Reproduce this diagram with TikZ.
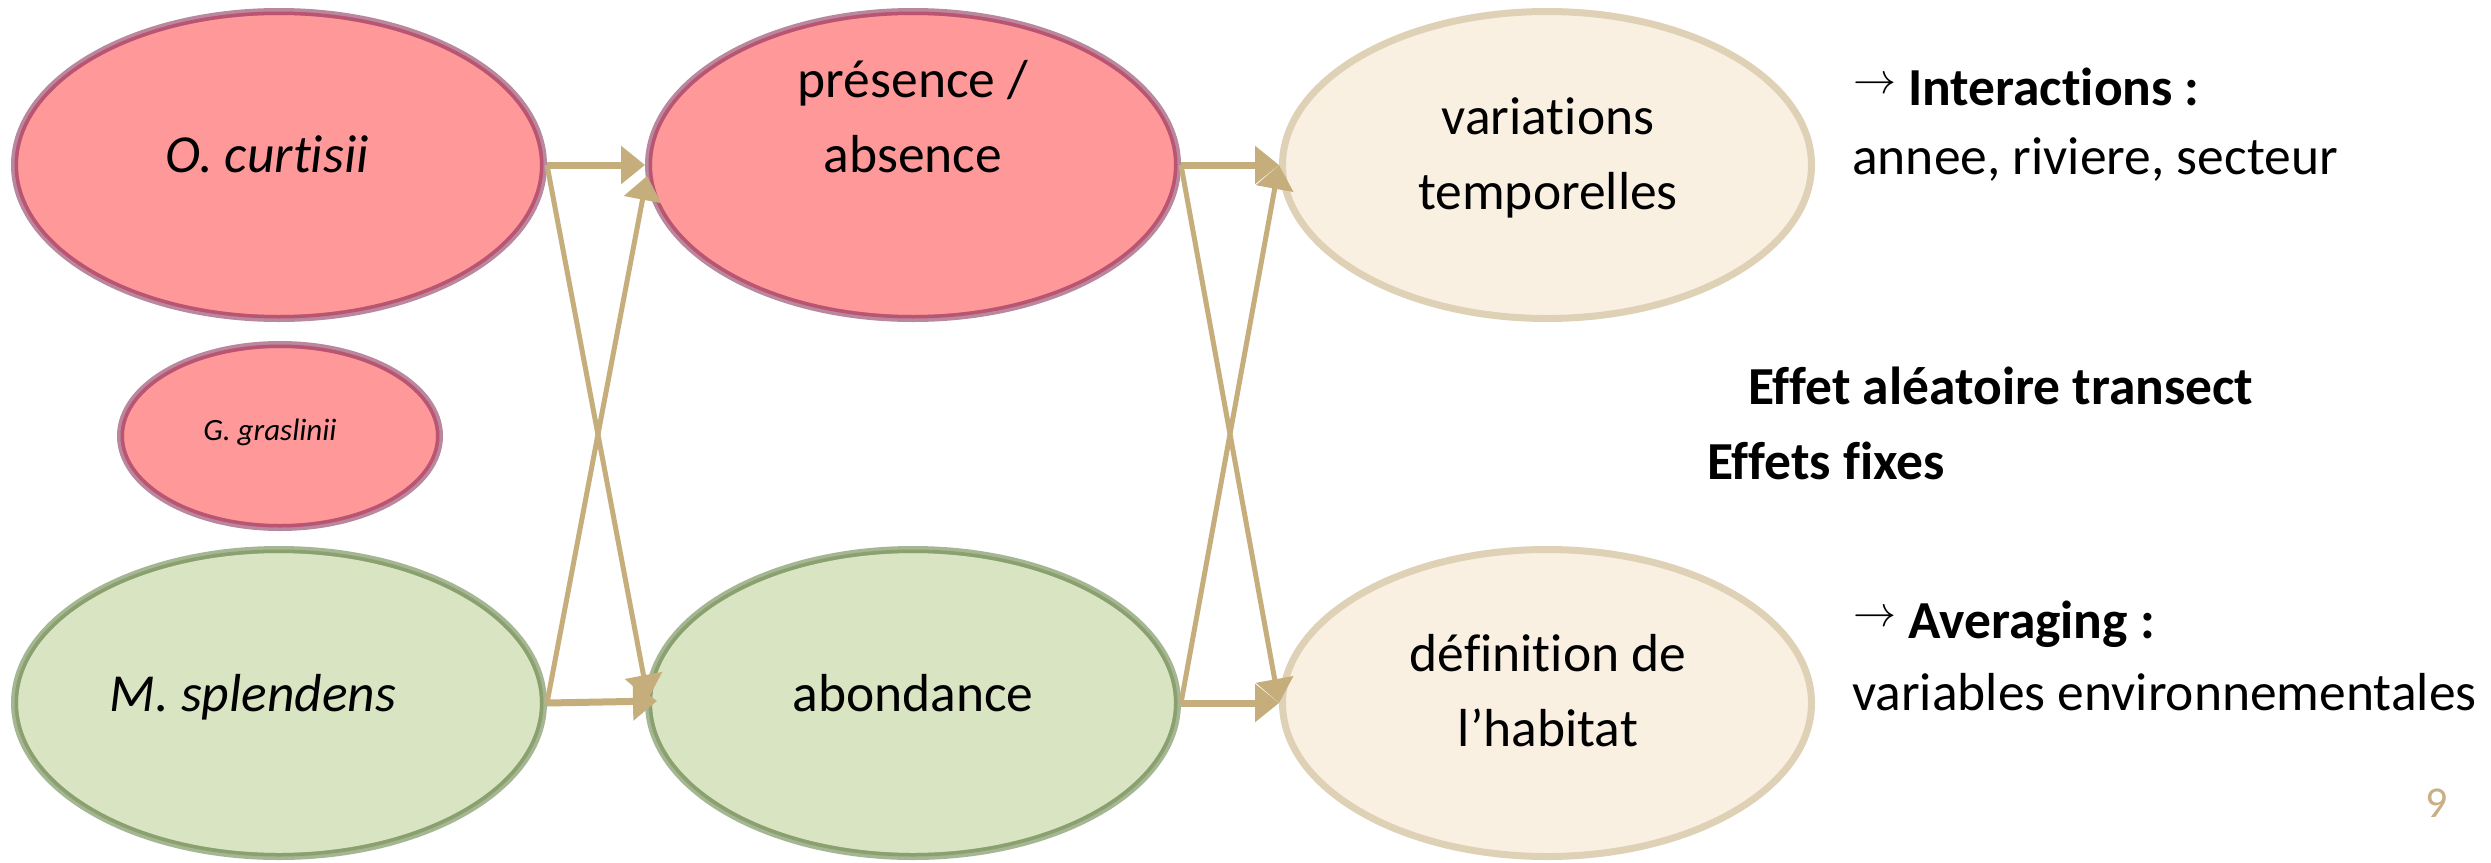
\documentclass[tikz,border=0pt]{standalone}
\usepackage{fontspec}
\setmainfont[Ligatures=NoCommon]{Carlito}
\usetikzlibrary{arrows.meta,shapes.geometric,calc}
\definecolor{redfill}{RGB}{255,153,153}
\definecolor{redline}{RGB}{186,84,112}
\definecolor{redhalo}{RGB}{186,136,158}
\definecolor{greenfill}{RGB}{217,228,194}
\definecolor{greenline}{RGB}{138,160,110}
\definecolor{greenhalo}{RGB}{164,182,146}
\definecolor{creamfill}{RGB}{249,240,226}
\definecolor{creamline}{RGB}{222,209,181}
\definecolor{tanc}{RGB}{198,174,124}
\definecolor{numc}{RGB}{200,176,132}
\newcommand{\myarrow}{\raisebox{12pt}{\resizebox{43pt}{!}{$\rightarrow$}}}
\tikzset{
  bigell/.style={ellipse, minimum width=529pt, minimum height=307pt, line width=7pt, inner sep=0pt},
  smallell/.style={ellipse, minimum width=319pt, minimum height=183pt, line width=7pt, inner sep=0pt},
  redell/.style={fill=redfill, draw=redhalo},
  greenell/.style={fill=greenfill, draw=greenhalo},
  creamell/.style={fill=creamfill, draw=creamline},
  txt/.style={font=\fontsize{53.5}{64}\selectfont, inner sep=0pt, anchor=base},
  itxt/.style={font=\fontsize{53.5}{64}\selectfont\itshape, inner sep=0pt, anchor=base},
  rtxt/.style={font=\fontsize{53.5}{64}\selectfont, inner sep=0pt, anchor=base west},
  rbtxt/.style={font=\fontsize{53.5}{64}\selectfont\bfseries, inner sep=0pt, anchor=base west},
  thickarrow/.style={draw=tanc, line width=7pt, -{Triangle[length=24pt,width=37pt]}},
  thinarrow/.style={draw=tanc, line width=5pt, -{Triangle[length=24pt,width=37pt]}},
}
\begin{document}
\begin{tikzpicture}[x=1pt,y=-1pt]
\useasboundingbox[fill=white] (0,0) rectangle (2491,862);
% ellipses
\node[bigell, redell] (oc) at (279,165) {};
\node[bigell, redell] (pa) at (913,165) {};
\node[bigell, creamell] (vt) at (1547,165) {};
\node[smallell, redell] (gg) at (280,436) {};
\node[bigell, greenell] (ms) at (279,703) {};
\node[bigell, greenell] (ab) at (913,703) {};
\node[bigell, creamell] (dh) at (1547,703) {};
% inner darker borders
\foreach \n in {oc,pa}
  \draw[redline, line width=3.5pt] (\n.center) ellipse [x radius=262.75, y radius=151.75];
\draw[redline, line width=3.5pt] (gg.center) ellipse [x radius=157.75, y radius=89.75];
\foreach \n in {ms,ab}
  \draw[greenline, line width=3.5pt] (\n.center) ellipse [x radius=262.75, y radius=151.75];
% connectors
\draw[thickarrow] (oc.east) -- (pa.west);
\draw[thinarrow] (oc.east) -- ($(ab.west)+(3,-4)$);
\draw[thinarrow] (ms.east) -- ($(pa.west)+(2,11)$);
\draw[thickarrow] (ms.east) -- ($(ab.west)+(12,-2)$);
\draw[thickarrow] (pa.east) -- (vt.west);
\draw[thinarrow] (pa.east) -- (dh.west);
\draw[thinarrow] (ab.east) -- (vt.west);
\draw[thickarrow] (ab.east) -- (dh.west);
% ellipse texts
\node[itxt] (oc-t) at (267,172) {O. curtisii};
\node[txt] (pa-t1) at (913,97) {présence /};
\node[txt] (pa-t2) at (913,172) {absence};
\node[txt] (vt-t1) at (1548,134) {variations};
\node[txt] (vt-t2) at (1548,209) {temporelles};
\node[itxt, font=\fontsize{31}{36}\selectfont\itshape] (gg-t) at (270,440) {G. graslinii};
\node[itxt] (ms-t) at (253,711) {M. splendens};
\node[txt] (ab-t) at (913,711) {abondance};
\node[txt] (dh-t1) at (1548,671) {définition de};
\node[txt] (dh-t2) at (1548,746) {l’habitat};
% right texts
\node[rbtxt] (int) at (1853,105) {\myarrow\ Interactions :};
\node[rtxt] (intv) at (1852,174) {annee, riviere, secteur};
\node[rbtxt] (eff1) at (1748,404) {Effet aléatoire transect};
\node[rbtxt] (eff2) at (1707,479) {Effets fixes};
\node[rbtxt] (avg) at (1853,638) {\myarrow\ Averaging :};
\node[rtxt] (avgv) at (1852,710) {variables environnementales};
\node[txt, text=numc, font=\fontsize{44}{50}\selectfont] (num) at (2437,817) {9};
\end{tikzpicture}
\end{document}
